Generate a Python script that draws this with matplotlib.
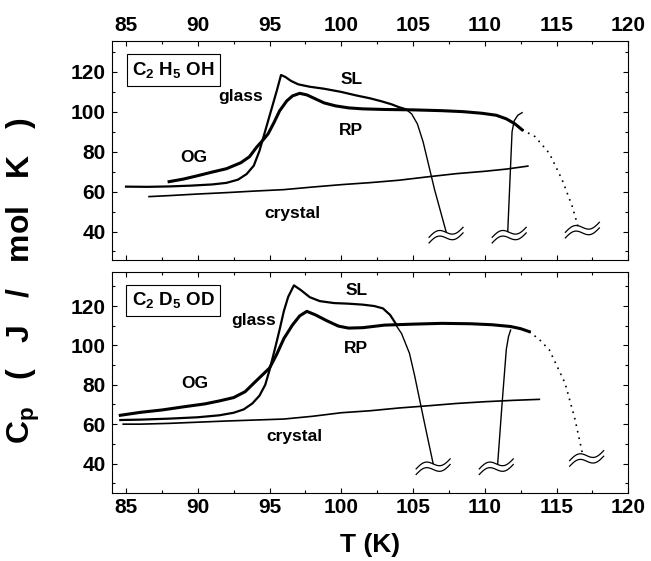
import matplotlib
matplotlib.use('Agg')
import matplotlib.pyplot as plt
from matplotlib import transforms
from matplotlib.ticker import MultipleLocator
import numpy as np

plt.rcParams['font.family'] = ['Liberation Sans', 'DejaVu Sans']
plt.rcParams['font.weight'] = 'bold'
plt.rcParams['mathtext.fontset'] = 'custom'
plt.rcParams['mathtext.rm'] = 'Liberation Sans:bold'
plt.rcParams['mathtext.it'] = 'Liberation Sans:bold'
plt.rcParams['mathtext.bf'] = 'Liberation Sans:bold'

# ---------------- data: C2H5OH (top panel) ----------------
h_glass_T = [85, 86.5, 88, 89.5, 91, 92, 92.8, 93.4, 93.9, 94.3, 94.7, 95.1, 95.5, 95.8,
             96.1, 96.5, 97.0, 97.8, 98.8, 100.0, 101.0, 102.0, 102.8, 103.5, 104.0, 104.5]
h_glass_Cp = [62.5, 62.4, 62.6, 63.0, 63.6, 64.4, 66.0, 68.8, 73.0, 80.5, 90.5, 100.5, 110.5, 118.5,
              117.5, 115.5, 113.8, 112.6, 111.6, 110.0, 108.3, 106.8, 105.3, 103.8, 102.4, 101.3]
h_rp_T = [88, 89, 90, 91, 92, 93, 93.6, 94.1, 94.5, 94.9, 95.3, 95.7, 96.2, 96.6, 97.1, 97.6,
          98.2, 98.8, 99.6, 100.5, 101.5, 103, 105, 107, 108.5, 109.8, 110.8, 111.5, 112.1, 112.6]
h_rp_Cp = [65, 66.3, 68, 69.8, 71.5, 74.5, 77.5, 82.3, 85.5, 89, 94.5, 100.5, 105.5, 108, 109.3, 108.5,
           106.5, 104.5, 103, 102, 101.5, 101.2, 101, 100.6, 100.1, 99.3, 98.3, 96.5, 94, 91]
h_crys_T = [86.6, 88, 90, 92, 94, 96, 98, 100, 102, 104, 106, 108, 110, 111.5, 113]
h_crys_Cp = [57.5, 58, 58.8, 59.5, 60.3, 61, 62.3, 63.5, 64.5, 65.7, 67.4, 69, 70.2, 71.3, 72.8]
h_drop_T = [104.5, 104.9, 105.3, 105.7, 106.1, 106.5, 106.9, 107.3]
h_drop_Cp = [101.3, 99, 94, 85, 73, 61, 50.5, 40]
h_rise_T = [111.6, 111.75, 111.9, 112.05, 112.3, 112.6]
h_rise_Cp = [40, 65, 90, 95.5, 98.3, 99.6]
h_dot_T = [112.6, 113.5, 114.5, 115.4, 116.1, 116.5]
h_dot_Cp = [91, 87.6, 79.2, 65.8, 52.5, 42.4]
h_brk_T = [107.3, 111.7, 116.8]
h_brk_Cp = [38.2, 38.2, 40.7]

# ---------------- data: C2D5OD (bottom panel) ----------------
d_glass_T = [84.6, 86, 88, 90, 91.5, 92.5, 93.2, 93.8, 94.3, 94.7, 95.0, 95.4, 95.7, 96.0, 96.3,
             96.7, 97.2, 97.8, 98.5, 99.5, 100.5, 101.5, 102.3, 102.9, 103.4, 103.8]
d_glass_Cp = [62.1, 62.3, 62.8, 63.5, 64.5, 65.8, 67.5, 70.5, 74.5, 80, 87.5, 99, 108, 117.5, 124.7,
              130.5, 128, 124.5, 122.5, 121.5, 121.2, 120.7, 120, 118.8, 115.5, 111]
d_rp_T = [84.6, 86, 87.5, 89, 90.5, 91.5, 92.5, 93.3, 94.0, 94.5, 95.0, 95.5, 96.0, 96.6, 97.1,
          97.6, 98.2, 99.0, 99.8, 100.5, 101.5, 103, 105, 107, 109, 110.5, 111.8, 112.5, 113.1]
d_rp_Cp = [64.5, 66, 67.2, 68.8, 70.3, 71.8, 73.5, 76.5, 81.5, 85, 88.5, 95.5, 103.5, 110.4, 115,
           117.3, 115.5, 112.5, 109.8, 108.8, 109, 110.3, 110.8, 111.2, 111, 110.5, 109.6, 108.5, 107]
d_crys_T = [84.8, 86, 88, 90, 92, 94, 96, 98, 100, 102, 104, 106, 108, 110, 112, 113.8]
d_crys_Cp = [60, 60, 60.4, 61, 61.6, 62.1, 62.6, 64, 65.8, 66.8, 68.2, 69.3, 70.5, 71.4, 72.1, 72.6]
d_drop_T = [103.8, 104.2, 104.75, 105.1, 105.4, 105.7, 106.0, 106.4]
d_drop_Cp = [110.4, 106, 96, 85, 74.5, 64, 53.6, 40]
d_rise_T = [110.9, 111.2, 111.5, 111.65, 111.8]
d_rise_Cp = [40, 70, 98, 104.4, 107.8]
d_dot_T = [113.1, 113.8, 114.5, 115.6, 116.3, 116.8]
d_dot_Cp = [107, 103, 97.7, 80.7, 62.1, 45.2]
d_brk_T = [106.4, 110.8, 117.1]
d_brk_Cp = [38.4, 38.4, 42.6]

x_ticks = [85, 90, 95, 100, 105, 110, 115, 120]
y_ticks = [40, 60, 80, 100, 120]

fig = plt.figure(figsize=(6.51, 5.61), dpi=100)
ax1 = fig.add_axes([0.1716, 0.5365, 0.7935, 0.391])
ax2 = fig.add_axes([0.1716, 0.1218, 0.7935, 0.3934])


def style(ax, ylim, top_labels, bottom_labels):
    ax.set_xlim(84, 120)
    ax.set_ylim(*ylim)
    ax.set_xticks(x_ticks)
    ax.set_yticks(y_ticks)
    ax.xaxis.set_minor_locator(MultipleLocator(2.5))
    ax.yaxis.set_minor_locator(MultipleLocator(10))
    ax.tick_params(which='both', direction='in', top=True, right=True, width=0.8,
                   labeltop=top_labels, labelbottom=bottom_labels, labelsize=15)
    ax.tick_params(which='major', length=3.8)
    ax.tick_params(which='minor', length=2.2)
    ax.tick_params(axis='x', pad=4)
    ax.tick_params(axis='y', pad=4.5)
    for s in ax.spines.values():
        s.set_linewidth(0.8)
    for lab in ax.get_xticklabels() + ax.get_yticklabels():
        lab.set_fontweight('bold')


def brk(ax, T, Cp):
    u = np.linspace(-1, 1, 50)
    x = 0.17 * u
    y = 0.05 * u - 0.04 * np.sin(np.pi * u)
    tr = fig.dpi_scale_trans + transforms.ScaledTranslation(T, Cp, ax.transData)
    for dy in (-0.028, 0.028):
        ax.plot(x, y + dy, transform=tr, color='k', lw=0.9, clip_on=False)


style(ax1, (25.7, 135.7), True, False)
style(ax2, (25.2, 137.3), False, True)

for ax, d in ((ax1, dict(g=(h_glass_T, h_glass_Cp), r=(h_rp_T, h_rp_Cp), c=(h_crys_T, h_crys_Cp),
                         dr=(h_drop_T, h_drop_Cp), ri=(h_rise_T, h_rise_Cp), do=(h_dot_T, h_dot_Cp),
                         b=(h_brk_T, h_brk_Cp))),
              (ax2, dict(g=(d_glass_T, d_glass_Cp), r=(d_rp_T, d_rp_Cp), c=(d_crys_T, d_crys_Cp),
                         dr=(d_drop_T, d_drop_Cp), ri=(d_rise_T, d_rise_Cp), do=(d_dot_T, d_dot_Cp),
                         b=(d_brk_T, d_brk_Cp)))):
    ax.plot(*d['g'], color='k', lw=1.6)
    ax.plot(*d['r'], color='k', lw=2.2)
    ax.plot(*d['c'], color='k', lw=1.2)
    ax.plot(*d['dr'], color='k', lw=1.0)
    ax.plot(*d['ri'], color='k', lw=1.0)
    ax.plot(*d['do'], color='k', lw=1.2, linestyle=(0, (1, 3)))
    for T, Cp in zip(*d['b']):
        brk(ax, T, Cp)

lab_kw = dict(fontsize=12.5, fontweight='bold', ha='center', va='center')
box_kw = dict(boxstyle='square,pad=0.3', fc='white', ec='k', lw=0.8)

ax1.text(88.3, 121, 'C$_2$ H$_5$ OH', fontsize=13.5, ha='center', va='center', bbox=box_kw)
ax1.text(93.0, 107.6, 'glass', **lab_kw)
ax1.text(100.7, 116, 'SL', **lab_kw)
ax1.text(100.7, 90.9, 'RP', **lab_kw)
ax1.text(89.7, 77.2, 'OG', **lab_kw)
ax1.text(96.6, 49.1, 'crystal', **lab_kw)

ax2.text(88.3, 123, 'C$_2$ D$_5$ OD', fontsize=13.5, ha='center', va='center', bbox=box_kw)
ax2.text(93.86, 112.9, 'glass', **lab_kw)
ax2.text(101.04, 128.1, 'SL', **lab_kw)
ax2.text(101.04, 98.5, 'RP', **lab_kw)
ax2.text(89.8, 80.7, 'OG', **lab_kw)
ax2.text(96.76, 53.6, 'crystal', **lab_kw)

fig.text(0.036, 0.50, 'C$_p$   (   J   /   mol   K   )', rotation=90, fontsize=23,
         ha='center', va='center')
fig.text(0.568, 0.028, 'T (K)', fontsize=19, fontweight='bold', ha='center', va='center')

fig.savefig('out.png', dpi=100)
